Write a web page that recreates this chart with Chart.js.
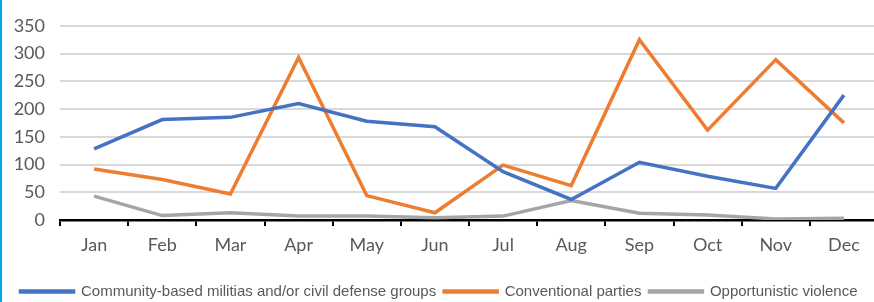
<!DOCTYPE html>
<html>
<head>
<meta charset="utf-8">
<script src="https://cdn.jsdelivr.net/npm/chart.js@4"></script>
<style>
  html, body { margin: 0; padding: 0; background: #fff; overflow: hidden; }
  #wrap { position: relative; width: 874px; height: 302px; overflow: hidden; }
  #edge { position: absolute; left: 0; top: 0; width: 2px; height: 302px; background: #00a8e8; }
</style>
</head>
<body>
<div id="wrap">
  <canvas id="lineChart" width="878" height="302"></canvas>
  <div id="edge"></div>
</div>
<script>
const months = ['Jan', 'Feb', 'Mar', 'Apr', 'May', 'Jun', 'Jul', 'Aug', 'Sep', 'Oct', 'Nov', 'Dec'];
const militias = [128, 181, 185, 210, 178, 168, 87, 37, 104, 79, 57, 225];
const conventional = [92, 73, 47, 293, 44, 13, 99, 62, 325, 162, 289, 175];
const opportunistic = [43, 8, 13, 7, 7, 4, 7, 35, 12, 9, 2, 3];

window.addEventListener('load', setup);

function setup() {
  const ctx = document.getElementById('lineChart').getContext('2d');
  const tickFont = { family: 'Lato', size: 18 };

  new Chart(ctx, {
    type: 'line',
    data: {
      labels: months,
      datasets: [{
        label: 'Community-based militias and/or civil defense groups',
        data: militias,
        borderColor: '#4472c4',
        backgroundColor: '#4472c4'
      }, {
        label: 'Conventional parties',
        data: conventional,
        borderColor: '#ed7d31',
        backgroundColor: '#ed7d31'
      }, {
        label: 'Opportunistic violence',
        data: opportunistic,
        borderColor: '#a5a5a5',
        backgroundColor: '#a5a5a5'
      }]
    },
    options: {
      responsive: false,
      animation: false,
      elements: {
        line: { borderWidth: 3.5, tension: 0 },
        point: { radius: 0 }
      },
      layout: { padding: { top: 22, left: 0, right: 0, bottom: -7 } },
      plugins: {
        tooltip: { enabled: false },
        legend: {
          position: 'bottom',
          labels: {
            font: { family: 'Liberation Sans', size: 15 },
            color: '#595959',
            boxWidth: 53,
            boxHeight: 1,
            padding: 8
          }
        }
      },
      scales: {
        x: {
          offset: true,
          grid: {
            offset: true,
            drawOnChartArea: false,
            drawTicks: true,
            tickLength: 6,
            color: '#000',
            lineWidth: 2
          },
          border: { display: true, color: '#000', width: 2.5 },
          ticks: { font: tickFont, color: '#595959', padding: 8, maxRotation: 0 },
          afterFit: scale => { scale.height = 56; }
        },
        y: {
          min: 0,
          max: 350,
          grid: { color: '#d9d9d9', lineWidth: 2, drawTicks: false },
          border: { display: false },
          ticks: { stepSize: 50, font: tickFont, color: '#595959', padding: 15 },
          afterFit: scale => { scale.width = 60; }
        }
      }
    }
  });
}
</script>
</body>
</html>
